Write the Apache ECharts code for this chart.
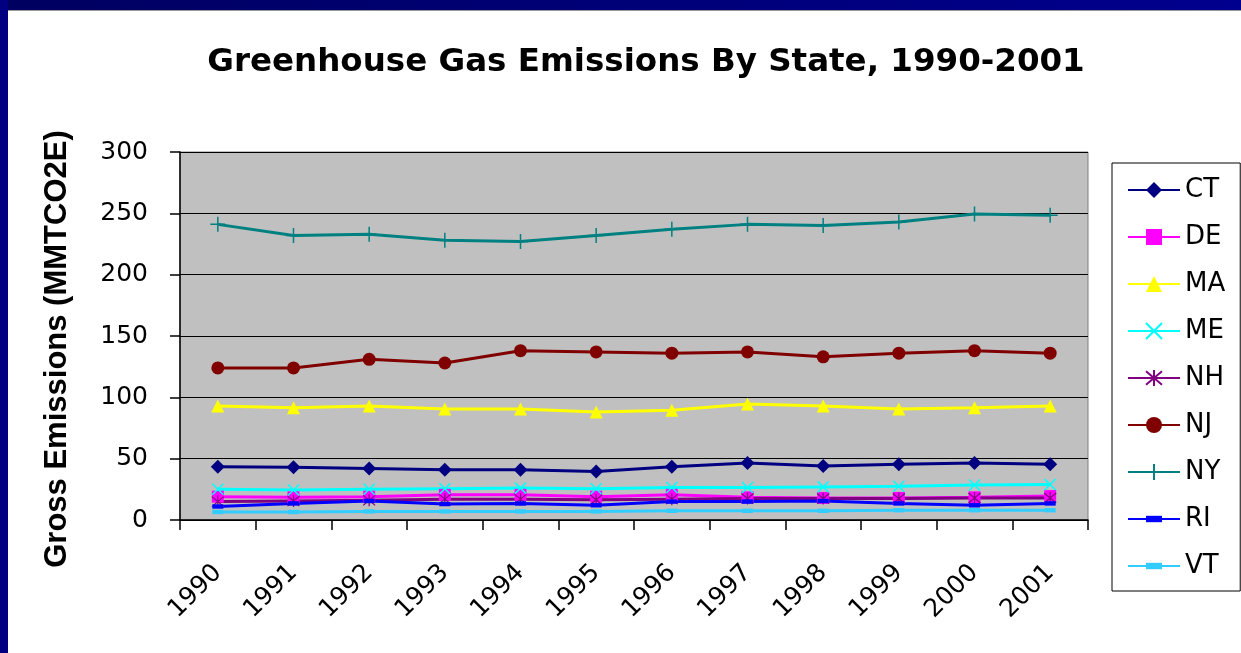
<!DOCTYPE html>
<html>
<head>
<meta charset="utf-8">
<script src="https://cdn.jsdelivr.net/npm/echarts@6/dist/echarts.min.js"></script>
<style>
html,body{margin:0;padding:0;background:#fff;}
#chart{width:1241px;height:653px;}
</style>
</head>
<body>
<div id="chart"></div>
<script>
const years = ['1990','1991','1992','1993','1994','1995','1996','1997','1998','1999','2000','2001'];
const CT = [43.5, 43, 42, 41, 41, 39.5, 43.5, 46.5, 44, 45.5, 46.5, 45.5];
const DE = [19, 18.5, 19, 20.5, 20.5, 19, 20.5, 18.5, 18, 18, 18.5, 19.5];
const MA = [93, 91.5, 93, 90.5, 90.5, 88, 89.5, 94.5, 93, 90.5, 91.5, 93];
const ME = [25, 24.5, 25, 25.5, 26, 25.5, 26.5, 26.5, 27, 27.5, 28.5, 29];
const NH = [15, 15.5, 16, 17, 17, 16.5, 17, 17.5, 17.5, 17.5, 18, 18];
const NJ = [124, 124, 131, 128, 138, 137, 136, 137, 133, 136, 138, 136];
const NY = [241, 232, 233, 228, 227, 232, 237, 241, 240, 243, 249.5, 248.5];
const RI = [11, 13.5, 15.5, 13, 13.5, 12, 15, 15, 15.5, 13.5, 12, 13.5];
const VT = [6.5, 6.5, 7, 7, 7, 7, 7.5, 7.5, 7.5, 8, 8, 8];
const yTicks = [0, 50, 100, 150, 200, 250, 300];
const states = ['CT','DE','MA','ME','NH','NJ','NY','RI','VT'];

const FONT = 'DejaVu Sans';
const xPath = 'path://M0,0L10,10M10,0L0,10';
const astPath = 'path://M0,0L10,10M10,0L0,10M5,-1L5,11';
const plusPath = 'path://M5,0L5,10M2,5L8,5';
// filled dash centred in a 10x10 box (the bare moves keep the box square)
const dashPath = 'path://M0,0M0,3L10,3L10,7L0,7ZM10,10';

function mk(name, data, color, symbol, size, extra) {
  return Object.assign({
    name: name, type: 'line', data: data,
    symbol: symbol, symbolSize: size,
    lineStyle: {color: color, width: 3},
    itemStyle: {color: color, borderColor: color, borderWidth: 0},
    emphasis: {disabled: true},
    animation: false
  }, extra || {});
}

const series = [
  mk('CT', CT, '#000080', 'diamond', 14),
  mk('DE', DE, '#FF00FF', 'rect', 12),
  mk('MA', MA, '#FFFF00', 'triangle', 13),
  mk('ME', ME, '#00FFFF', xPath, 11, {itemStyle: {color: '#00FFFF', borderColor: '#00FFFF', borderWidth: 1.5}}),
  mk('NH', NH, '#800080', astPath, 12, {itemStyle: {color: '#800080', borderColor: '#800080', borderWidth: 1.2}}),
  mk('NJ', NJ, '#800000', 'circle', 13),
  mk('NY', NY, '#008080', plusPath, 15, {itemStyle: {color: '#008080', borderColor: '#008080', borderWidth: 1.5}}),
  mk('RI', RI, '#0000FF', dashPath, 11),
  mk('VT', VT, '#33CCFF', dashPath, 11)
];

const chart = echarts.init(document.getElementById('chart'), null, {renderer: 'canvas'});
chart.setOption({
  animation: false,
  backgroundColor: '#ffffff',
  graphic: [
    {type: 'rect', left: 0, top: 0, shape: {width: 1241, height: 10}, z: 100,
     style: {fill: {type: 'linear', x: 0, y: 0, x2: 1, y2: 0, colorStops: [{offset: 0, color: '#000060'}, {offset: 1, color: '#00008e'}]}}},
    {type: 'rect', left: 0, top: 10, shape: {width: 1241, height: 1}, z: 100, style: {fill: '#999999'}},
    {type: 'rect', left: 0, top: 0, shape: {width: 8, height: 653}, z: 100, style: {fill: '#000080'}}
  ],
  title: {
    text: 'Greenhouse Gas Emissions By State, 1990-2001',
    left: 641, top: 41, textAlign: 'center',
    textStyle: {fontFamily: FONT, fontWeight: 'bold', fontSize: 32.5, color: '#000'}
  },
  grid: {
    left: 180, top: 152, right: 153, bottom: 133,
    show: true, backgroundColor: '#c0c0c0', borderColor: '#808080', borderWidth: 1
  },
  legend: {
    orient: 'vertical', left: 1112, top: 163,
    padding: [12, 15, 10, 15],
    itemWidth: 52, itemHeight: 20, itemGap: 17,
    backgroundColor: '#ffffff', borderColor: '#000000', borderWidth: 1,
    textStyle: {fontFamily: FONT, fontSize: 26, color: '#000', lineHeight: 30},
    data: states
  },
  xAxis: {
    type: 'category', data: years, boundaryGap: true,
    axisLine: {lineStyle: {color: '#000', width: 1.5}},
    axisTick: {show: true, length: 10, lineStyle: {color: '#000', width: 1.5}},
    axisLabel: {rotate: 45, margin: 49, fontFamily: FONT, fontSize: 25, color: '#000'},
    splitLine: {show: false}
  },
  yAxis: {
    type: 'value', min: yTicks[0], max: yTicks[yTicks.length - 1], interval: 50,
    name: 'Gross Emissions (MMTCO2E)', nameLocation: 'middle', nameGap: 107,
    nameTextStyle: {fontFamily: 'Liberation Sans', fontWeight: 'bold', fontSize: 31, color: '#000', padding: [0, 26, 0, 0]},
    axisLine: {show: true, lineStyle: {color: '#000', width: 1.5}},
    axisTick: {show: true, length: 10, lineStyle: {color: '#000', width: 1.5}},
    axisLabel: {margin: 32, fontFamily: FONT, fontSize: 25, color: '#000'},
    splitLine: {show: true, lineStyle: {color: '#000', width: 1}}
  },
  series: series
});
</script>
</body>
</html>
